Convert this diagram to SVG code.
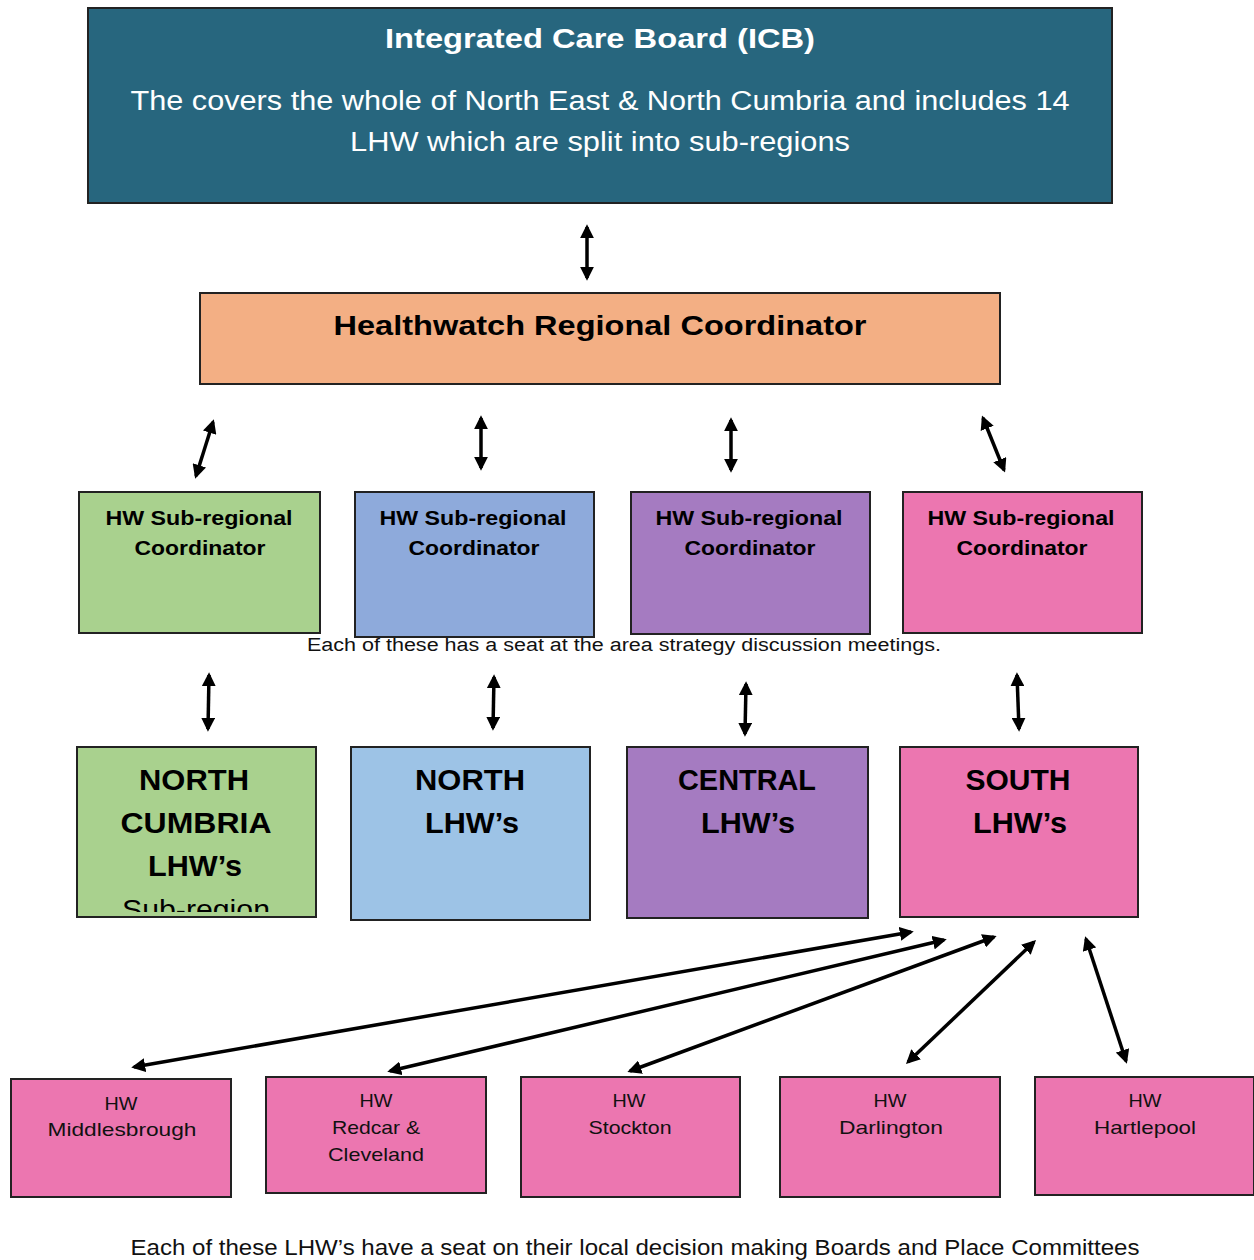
<svg xmlns="http://www.w3.org/2000/svg" width="1254" height="1260" viewBox="0 0 1254 1260">
<style>
text{font-family:"Liberation Sans",Arial,sans-serif;text-anchor:middle}
.box{stroke:#222;stroke-width:2}
.b{font-weight:bold;fill:#000}
.w{fill:#fff}
.r{fill:#111}
.conn line{stroke:#000;stroke-width:3.5;marker-start:url(#ah);marker-end:url(#ah)}
</style>
<defs>
<marker id="ah" viewBox="0 0 10 10" refX="8" refY="5" markerWidth="4" markerHeight="4" orient="auto-start-reverse" markerUnits="strokeWidth">
<path d="M0,0 L10,5 L0,10 Z" fill="#000"/>
</marker>
<clipPath id="cgreen"><rect x="77" y="747" width="239" height="165"/></clipPath>
</defs>
<rect width="1254" height="1260" fill="#fff"/>

<g id="icb">
<rect class="box" x="88" y="8" width="1024" height="195" fill="#27667e"/>
<text class="w" x="600" y="48" font-size="28" font-weight="bold" textLength="430" lengthAdjust="spacingAndGlyphs">Integrated Care Board (ICB)</text>
<text class="w" x="600" y="110" font-size="27" textLength="939" lengthAdjust="spacingAndGlyphs">The covers the whole of North East &amp; North Cumbria and includes 14</text>
<text class="w" x="600" y="151" font-size="27" textLength="500" lengthAdjust="spacingAndGlyphs">LHW which are split into sub-regions</text>
</g>

<g id="regional">
<rect class="box" x="200" y="293" width="800" height="91" fill="#f3af84"/>
<text class="b" x="600" y="335" font-size="28" textLength="533" lengthAdjust="spacingAndGlyphs">Healthwatch Regional Coordinator</text>
</g>

<g id="sub-green">
<rect class="box" x="79" y="492" width="241" height="141" fill="#a9d18e"/>
<text class="b" x="199" y="525" font-size="20" textLength="187" lengthAdjust="spacingAndGlyphs">HW Sub-regional</text>
<text class="b" x="200" y="555" font-size="20" textLength="131" lengthAdjust="spacingAndGlyphs">Coordinator</text>
</g>
<g id="sub-blue">
<rect class="box" x="355" y="492" width="239" height="145" fill="#8eaadb"/>
<text class="b" x="473" y="525" font-size="20" textLength="187" lengthAdjust="spacingAndGlyphs">HW Sub-regional</text>
<text class="b" x="474" y="555" font-size="20" textLength="131" lengthAdjust="spacingAndGlyphs">Coordinator</text>
</g>
<g id="sub-purple">
<rect class="box" x="631" y="492" width="239" height="142" fill="#a57bc1"/>
<text class="b" x="749" y="525" font-size="20" textLength="187" lengthAdjust="spacingAndGlyphs">HW Sub-regional</text>
<text class="b" x="750" y="555" font-size="20" textLength="131" lengthAdjust="spacingAndGlyphs">Coordinator</text>
</g>
<g id="sub-pink">
<rect class="box" x="903" y="492" width="239" height="141" fill="#ec76b0"/>
<text class="b" x="1021" y="525" font-size="20" textLength="187" lengthAdjust="spacingAndGlyphs">HW Sub-regional</text>
<text class="b" x="1022" y="555" font-size="20" textLength="131" lengthAdjust="spacingAndGlyphs">Coordinator</text>
</g>

<g id="caption-mid">
<text class="r" x="624" y="651" font-size="18" textLength="634" lengthAdjust="spacingAndGlyphs">Each of these has a seat at the area strategy discussion meetings.</text>
</g>

<g id="north-cumbria">
<rect class="box" x="77" y="747" width="239" height="170" fill="#a9d18e"/>
<g clip-path="url(#cgreen)">
<text class="b" x="194" y="790" font-size="29" textLength="110" lengthAdjust="spacingAndGlyphs">NORTH</text>
<text class="b" x="196" y="833" font-size="29" textLength="151" lengthAdjust="spacingAndGlyphs">CUMBRIA</text>
<text class="b" x="195" y="876" font-size="29" textLength="94" lengthAdjust="spacingAndGlyphs">LHW’s</text>
<text x="196" y="919" font-size="27" fill="#000" textLength="148" lengthAdjust="spacingAndGlyphs">Sub-region</text>
</g>
</g>
<g id="north">
<rect class="box" x="351" y="747" width="239" height="173" fill="#9dc3e6"/>
<text class="b" x="470" y="790" font-size="29" textLength="110" lengthAdjust="spacingAndGlyphs">NORTH</text>
<text class="b" x="472" y="833" font-size="29" textLength="94" lengthAdjust="spacingAndGlyphs">LHW’s</text>
</g>
<g id="central">
<rect class="box" x="627" y="747" width="241" height="171" fill="#a57bc1"/>
<text class="b" x="747" y="790" font-size="29" textLength="138" lengthAdjust="spacingAndGlyphs">CENTRAL</text>
<text class="b" x="748" y="833" font-size="29" textLength="94" lengthAdjust="spacingAndGlyphs">LHW’s</text>
</g>
<g id="south">
<rect class="box" x="900" y="747" width="238" height="170" fill="#ec76b0"/>
<text class="b" x="1018" y="790" font-size="29" textLength="105" lengthAdjust="spacingAndGlyphs">SOUTH</text>
<text class="b" x="1020" y="833" font-size="29" textLength="94" lengthAdjust="spacingAndGlyphs">LHW’s</text>
</g>

<g id="middlesbrough">
<rect class="box" x="11" y="1079" width="220" height="118" fill="#ec76b0"/>
<text class="r" x="121" y="1110" font-size="18" textLength="33" lengthAdjust="spacingAndGlyphs">HW</text>
<text class="r" x="122" y="1136" font-size="19" textLength="149" lengthAdjust="spacingAndGlyphs">Middlesbrough</text>
</g>
<g id="redcar">
<rect class="box" x="266" y="1077" width="220" height="116" fill="#ec76b0"/>
<text class="r" x="376" y="1107" font-size="18" textLength="33" lengthAdjust="spacingAndGlyphs">HW</text>
<text class="r" x="376" y="1134" font-size="19" textLength="88" lengthAdjust="spacingAndGlyphs">Redcar &amp;</text>
<text class="r" x="376" y="1161" font-size="19" textLength="96" lengthAdjust="spacingAndGlyphs">Cleveland</text>
</g>
<g id="stockton">
<rect class="box" x="521" y="1077" width="219" height="120" fill="#ec76b0"/>
<text class="r" x="629" y="1107" font-size="18" textLength="33" lengthAdjust="spacingAndGlyphs">HW</text>
<text class="r" x="630" y="1134" font-size="19" textLength="83" lengthAdjust="spacingAndGlyphs">Stockton</text>
</g>
<g id="darlington">
<rect class="box" x="780" y="1077" width="220" height="120" fill="#ec76b0"/>
<text class="r" x="890" y="1107" font-size="18" textLength="33" lengthAdjust="spacingAndGlyphs">HW</text>
<text class="r" x="891" y="1134" font-size="19" textLength="104" lengthAdjust="spacingAndGlyphs">Darlington</text>
</g>
<g id="hartlepool">
<rect class="box" x="1035" y="1077" width="219" height="118" fill="#ec76b0"/>
<text class="r" x="1145" y="1107" font-size="18" textLength="33" lengthAdjust="spacingAndGlyphs">HW</text>
<text class="r" x="1145" y="1134" font-size="19" textLength="102" lengthAdjust="spacingAndGlyphs">Hartlepool</text>
</g>

<g id="caption-bottom">
<text class="r" x="635" y="1255" font-size="22" textLength="1009" lengthAdjust="spacingAndGlyphs">Each of these LHW’s have a seat on their local decision making Boards and Place Committees</text>
</g>

<g id="connectors" class="conn">
<line x1="587" y1="227" x2="587" y2="278"/>
<line x1="213" y1="422" x2="196" y2="476"/>
<line x1="481" y1="418" x2="481" y2="468"/>
<line x1="731" y1="420" x2="731" y2="470"/>
<line x1="983" y1="418" x2="1004" y2="470"/>
<line x1="209" y1="675" x2="208" y2="729"/>
<line x1="494" y1="677" x2="493" y2="728"/>
<line x1="746" y1="684" x2="745" y2="734"/>
<line x1="1017" y1="675" x2="1019" y2="729"/>
<line x1="134" y1="1067" x2="911" y2="932"/>
<line x1="390" y1="1071" x2="944" y2="940"/>
<line x1="630" y1="1071" x2="994" y2="937"/>
<line x1="908" y1="1062" x2="1034" y2="942"/>
<line x1="1126" y1="1061" x2="1086" y2="939"/>
</g>
</svg>
